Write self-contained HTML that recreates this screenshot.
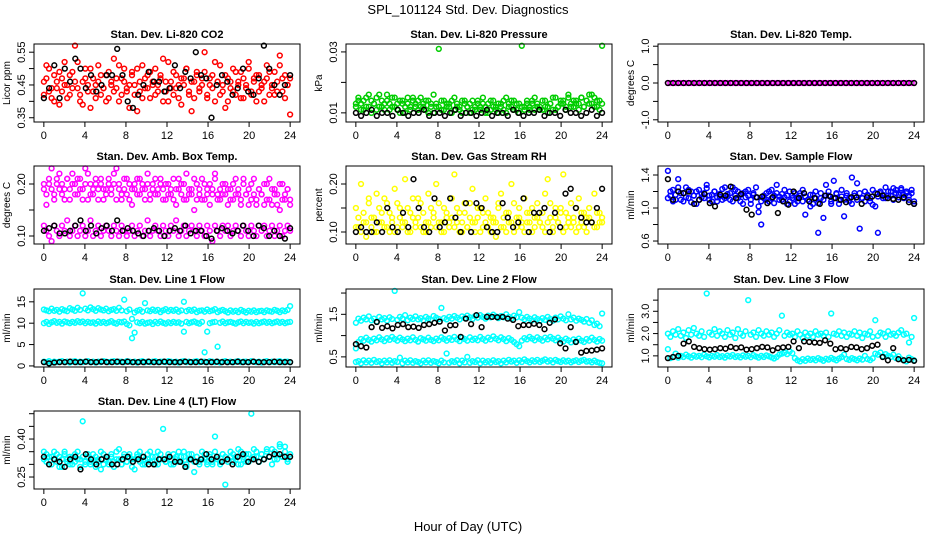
<!DOCTYPE html>
<html><head><meta charset="utf-8"><style>
body{margin:0;background:#fff;}
svg{display:block;font-family:"Liberation Sans",Arial,sans-serif;}
</style></head><body>
<svg id="chart" width="936" height="540" viewBox="0 0 936 540">
<text x="468" y="14" text-anchor="middle" font-size="13">SPL_101124  Std. Dev. Diagnostics</text>
<text x="468" y="531" text-anchor="middle" font-size="13">Hour of Day (UTC)</text>
</svg>
<script>
const xTicks=[0,4,8,12,16,20,24];
// ---- Panel 1: CO2
const co2RedA=[0.46,0.51,0.43,0.41,0.48,0.44,0.39,0.47,0.52,0.45,0.42,0.49,0.57,0.44,0.40,0.46,0.50,0.43,0.38,0.47,0.45,0.51,0.42,0.44,0.48,0.41,0.46,0.53,0.44,0.40,0.47,0.50,0.43,0.45,0.49,0.42,0.37,0.46,0.51,0.44,0.48,0.41,0.45,0.50,0.43,0.47,0.40,0.46,0.52,0.44,0.42,0.48,0.45,0.39,0.47,0.50,0.43,0.46,0.41,0.49,0.44,0.47,0.55,0.42,0.45,0.48,0.40,0.46,0.51,0.43,0.38,0.47,0.44,0.50,0.42,0.46,0.49,0.41,0.45,0.52,0.43,0.47,0.40,0.48,0.44,0.46,0.51,0.42,0.45,0.49,0.43,0.54,0.47,0.41,0.45,0.36];
const co2RedB=[0.42,0.47,0.50,0.44,0.40,0.46,0.49,0.43,0.45,0.41,0.48,0.44,0.46,0.52,0.42,0.39,0.47,0.45,0.50,0.43,0.41,0.46,0.48,0.44,0.40,0.49,0.45,0.43,0.47,0.51,0.42,0.46,0.44,0.38,0.48,0.45,0.50,0.43,0.41,0.47,0.44,0.49,0.46,0.42,0.45,0.48,0.53,0.43,0.40,0.46,0.49,0.44,0.41,0.47,0.45,0.50,0.42,0.37,0.46,0.48,0.43,0.45,0.49,0.41,0.47,0.44,0.52,0.46,0.42,0.45,0.48,0.40,0.46,0.43,0.49,0.45,0.41,0.47,0.44,0.50,0.42,0.46,0.48,0.43,0.45,0.40,0.47,0.49,0.44,0.42,0.46,0.51,0.43,0.48,0.45,0.47];
const co2Black=[0.41,0.44,0.51,0.41,0.50,0.46,0.53,0.50,0.44,0.48,0.43,0.45,0.48,0.48,0.56,0.48,0.40,0.38,0.42,0.45,0.49,0.46,0.46,0.43,0.44,0.51,0.44,0.49,0.47,0.55,0.48,0.47,0.35,0.45,0.48,0.46,0.42,0.44,0.50,0.43,0.42,0.47,0.57,0.50,0.45,0.42,0.45,0.48];
// ---- Panel 2: pressure
const presGreenA=[0.013,0.015,0.011,0.014,0.012,0.016,0.010,0.013,0.015,0.012,0.014,0.011,0.016,0.013,0.012,0.015,0.011,0.014,0.013,0.010,0.015,0.012,0.014,0.013,0.011,0.015,0.012,0.014,0.010,0.013,0.016,0.012,0.031,0.011,0.014,0.012,0.013,0.010,0.015,0.012,0.011,0.014,0.013,0.012,0.010,0.014,0.011,0.013,0.012,0.015,0.010,0.013,0.011,0.014,0.012,0.010,0.013,0.011,0.015,0.012,0.014,0.011,0.013,0.010,0.032,0.012,0.014,0.011,0.013,0.015,0.012,0.011,0.014,0.012,0.010,0.013,0.015,0.011,0.012,0.014,0.013,0.011,0.016,0.012,0.014,0.013,0.011,0.015,0.012,0.014,0.013,0.016,0.012,0.014,0.011,0.032];
const presGreenB=[0.012,0.014,0.013,0.011,0.015,0.012,0.014,0.013,0.011,0.016,0.012,0.013,0.014,0.011,0.015,0.012,0.013,0.010,0.014,0.012,0.013,0.011,0.015,0.012,0.014,0.012,0.013,0.011,0.014,0.012,0.010,0.013,0.012,0.014,0.011,0.013,0.012,0.014,0.011,0.013,0.012,0.010,0.014,0.012,0.013,0.011,0.012,0.014,0.011,0.013,0.012,0.010,0.014,0.012,0.011,0.013,0.012,0.014,0.010,0.013,0.012,0.014,0.011,0.013,0.012,0.011,0.013,0.012,0.014,0.011,0.013,0.012,0.011,0.014,0.012,0.013,0.011,0.015,0.012,0.013,0.014,0.012,0.015,0.013,0.012,0.014,0.013,0.015,0.012,0.014,0.016,0.013,0.015,0.012,0.014,0.013];
const presBlack=[0.010,0.009,0.010,0.011,0.009,0.010,0.010,0.009,0.011,0.010,0.009,0.010,0.010,0.011,0.009,0.010,0.010,0.009,0.010,0.011,0.009,0.010,0.010,0.009,0.010,0.011,0.009,0.010,0.010,0.009,0.011,0.010,0.009,0.010,0.010,0.011,0.009,0.010,0.010,0.009,0.011,0.010,0.010,0.009,0.010,0.011,0.009,0.010];
// ---- Panel 3: temp
const tempMag=[0,0,0,0,0,0,0,0,0,0,0,0,0,0,0,0,0,0,0,0,0,0,0,0,0,0,0,0,0,0,0,0,0,0,0,0,0,0,0,0,0,0,0,0,0,0,0,0,0,0,0,0,0,0,0,0,0,0,0,0,0,0,0,0,0,0,0,0,0,0,0,0,0,0,0,0,0,0,0,0,0,0,0,0,0,0,0,0,0,0,0,0,0,0,0,0];
const tempBlack=[0,0,0,0,0,0,0,0,0,0,0,0,0,0,0,0,0,0,0,0,0,0,0,0,0,0,0,0,0,0,0,0,0,0,0,0,0,0,0,0,0,0,0,0,0,0,0,0];
// ---- Panel 4: amb box temp
const ambHighA=[0.19,0.16,0.20,0.23,0.18,0.21,0.19,0.20,0.17,0.21,0.19,0.22,0.20,0.18,0.21,0.19,0.23,0.17,0.20,0.18,0.21,0.19,0.20,0.17,0.19,0.21,0.18,0.20,0.23,0.19,0.17,0.21,0.18,0.20,0.16,0.19,0.21,0.18,0.20,0.19,0.22,0.17,0.20,0.18,0.19,0.21,0.17,0.20,0.18,0.19,0.21,0.16,0.19,0.20,0.17,0.22,0.18,0.19,0.15,0.20,0.18,0.21,0.17,0.19,0.20,0.18,0.22,0.17,0.19,0.18,0.20,0.16,0.19,0.17,0.21,0.18,0.16,0.20,0.18,0.19,0.17,0.21,0.16,0.19,0.18,0.20,0.17,0.21,0.16,0.19,0.18,0.15,0.20,0.17,0.19,0.17];
const ambHighB=[0.20,0.18,0.21,0.19,0.17,0.20,0.22,0.18,0.19,0.21,0.17,0.20,0.18,0.21,0.19,0.17,0.20,0.22,0.18,0.19,0.20,0.17,0.21,0.19,0.18,0.20,0.19,0.22,0.17,0.20,0.18,0.19,0.21,0.17,0.19,0.20,0.18,0.21,0.19,0.17,0.20,0.18,0.19,0.21,0.18,0.20,0.19,0.17,0.20,0.18,0.17,0.19,0.21,0.18,0.20,0.17,0.19,0.18,0.21,0.17,0.19,0.17,0.20,0.18,0.16,0.19,0.21,0.18,0.17,0.20,0.18,0.19,0.17,0.20,0.18,0.19,0.17,0.21,0.18,0.16,0.20,0.18,0.17,0.19,0.18,0.16,0.20,0.17,0.19,0.18,0.16,0.20,0.17,0.18,0.19,0.16];
const ambLow=[0.12,0.11,0.10,0.09,0.12,0.11,0.10,0.12,0.11,0.13,0.10,0.11,0.12,0.10,0.11,0.12,0.10,0.11,0.13,0.10,0.11,0.12,0.10,0.11,0.12,0.11,0.10,0.12,0.11,0.10,0.12,0.11,0.10,0.11,0.12,0.10,0.11,0.12,0.10,0.11,0.13,0.10,0.11,0.12,0.11,0.10,0.12,0.11,0.10,0.12,0.11,0.13,0.10,0.11,0.12,0.10,0.11,0.12,0.11,0.10,0.12,0.11,0.10,0.12,0.11,0.09,0.12,0.11,0.10,0.12,0.11,0.12,0.10,0.11,0.12,0.11,0.10,0.12,0.11,0.10,0.12,0.11,0.10,0.12,0.11,0.12,0.10,0.11,0.12,0.10,0.11,0.12,0.10,0.11,0.12,0.11];
const ambBlack=[0.11,0.115,0.12,0.105,0.105,0.11,0.12,0.13,0.11,0.12,0.105,0.115,0.12,0.11,0.13,0.11,0.115,0.11,0.105,0.10,0.11,0.115,0.11,0.10,0.11,0.115,0.11,0.12,0.105,0.11,0.11,0.10,0.095,0.11,0.115,0.11,0.105,0.11,0.12,0.11,0.10,0.12,0.115,0.10,0.11,0.10,0.095,0.115];
// ---- Panel 5: RH
const rhYellowA=[0.15,0.11,0.20,0.12,0.09,0.17,0.13,0.10,0.18,0.12,0.14,0.11,0.16,0.10,0.13,0.19,0.11,0.15,0.12,0.21,0.10,0.14,0.17,0.11,0.13,0.16,0.10,0.12,0.18,0.11,0.14,0.20,0.12,0.10,0.15,0.13,0.11,0.17,0.22,0.12,0.14,0.10,0.16,0.11,0.13,0.19,0.12,0.15,0.10,0.14,0.17,0.11,0.13,0.12,0.09,0.16,0.18,0.11,0.14,0.12,0.20,0.10,0.13,0.15,0.11,0.17,0.12,0.14,0.10,0.13,0.16,0.12,0.11,0.18,0.21,0.13,0.10,0.15,0.12,0.14,0.22,0.11,0.13,0.16,0.12,0.10,0.17,0.14,0.11,0.13,0.15,0.12,0.18,0.11,0.14,0.12];
const rhYellowB=[0.11,0.13,0.10,0.14,0.12,0.16,0.11,0.13,0.10,0.15,0.12,0.17,0.11,0.14,0.12,0.10,0.16,0.13,0.11,0.12,0.15,0.10,0.13,0.12,0.17,0.11,0.14,0.10,0.12,0.15,0.13,0.11,0.16,0.12,0.10,0.14,0.12,0.13,0.11,0.15,0.10,0.12,0.14,0.11,0.16,0.12,0.10,0.13,0.15,0.11,0.12,0.14,0.10,0.13,0.12,0.15,0.11,0.13,0.10,0.14,0.12,0.16,0.11,0.13,0.12,0.10,0.14,0.12,0.15,0.11,0.13,0.12,0.14,0.10,0.12,0.16,0.11,0.13,0.12,0.15,0.10,0.14,0.12,0.11,0.13,0.15,0.11,0.12,0.14,0.10,0.13,0.12,0.11,0.14,0.12,0.13];
const rhBlack=[0.10,0.11,0.10,0.10,0.12,0.10,0.15,0.11,0.10,0.14,0.11,0.21,0.15,0.11,0.10,0.17,0.11,0.12,0.17,0.13,0.10,0.16,0.10,0.16,0.15,0.11,0.10,0.10,0.16,0.13,0.11,0.12,0.17,0.10,0.14,0.14,0.15,0.10,0.14,0.11,0.18,0.19,0.15,0.13,0.12,0.12,0.15,0.19];
// ---- Panel 6: sample flow
const sfBlueA=[1.45,1.15,1.22,1.10,1.35,1.18,1.08,1.25,1.12,1.20,1.15,1.05,1.22,1.13,1.18,1.28,1.10,1.16,1.20,1.08,1.14,1.23,1.12,1.17,1.10,1.25,1.15,1.20,1.08,1.18,1.13,1.22,1.05,1.16,1.25,0.95,0.80,1.12,1.18,1.08,1.22,1.15,1.28,1.10,1.17,1.13,1.05,1.20,1.12,1.18,1.08,1.15,1.22,0.92,1.10,1.16,1.05,1.20,0.70,1.12,0.88,1.28,1.15,1.05,1.33,1.18,1.10,1.22,0.90,1.15,1.08,1.37,1.18,1.30,0.75,1.12,1.20,1.15,1.08,1.22,1.02,0.70,1.18,1.12,1.25,1.15,1.20,1.10,1.22,1.16,1.24,1.12,1.18,1.10,1.22,1.05];
const sfBlueB=[1.12,1.20,1.08,1.16,1.25,1.10,1.18,1.13,1.22,1.07,1.15,1.20,1.10,1.17,1.12,1.24,1.15,1.08,1.20,1.13,1.17,1.10,1.25,1.14,1.18,1.08,1.22,1.12,1.16,1.05,1.20,1.15,1.10,1.18,1.13,1.02,1.08,1.15,1.10,1.20,1.12,1.06,1.18,1.14,1.10,1.22,1.15,1.08,1.15,1.05,1.12,1.18,1.08,1.14,1.10,1.02,1.16,1.12,1.06,1.18,1.10,1.15,1.20,1.08,1.12,1.17,1.05,1.14,1.10,1.18,1.12,1.05,1.15,1.10,1.18,1.12,1.08,1.16,1.12,1.04,1.18,1.14,1.20,1.16,1.12,1.20,1.15,1.24,1.18,1.13,1.22,1.16,1.20,1.15,1.18,1.08];
const sfBlack=[1.35,1.10,1.20,1.18,1.20,1.05,1.10,1.17,1.06,1.02,1.16,1.15,1.26,1.12,1.17,0.98,0.92,1.13,1.14,1.06,1.13,0.94,1.08,1.04,1.20,1.12,1.18,1.08,1.12,1.05,1.15,1.14,1.12,1.10,1.07,1.13,1.13,1.05,1.13,1.14,1.17,1.15,1.12,1.11,1.10,1.13,1.07,1.05];
// ---- Panel 7: line 1
const l1Top=[13.2,13.0,12.8,13.4,12.9,13.1,12.7,13.3,13.0,12.8,13.5,13.2,12.9,13.6,13.1,17.0,13.4,13.0,13.7,13.3,12.9,13.5,13.2,13.0,13.4,12.8,13.1,13.3,12.9,13.6,13.0,15.5,12.8,13.2,11.0,12.5,12.9,13.1,12.7,14.7,13.0,12.8,13.2,12.9,13.1,12.6,13.0,13.3,12.8,13.1,12.9,13.2,12.7,13.0,15.0,12.8,13.1,12.9,13.2,12.6,12.9,13.0,12.7,13.2,12.8,13.0,13.3,12.6,12.9,13.1,12.8,12.5,13.0,12.7,12.9,12.6,13.1,12.8,12.5,12.9,12.7,13.0,12.6,12.8,12.9,12.6,13.0,12.8,12.7,13.1,12.9,12.6,13.0,12.8,13.1,14.0];
const l1Mid=[10.0,10.3,9.8,10.2,10.5,10.1,10.3,9.9,10.4,10.2,10.0,10.3,10.1,10.5,10.2,10.4,10.0,10.3,10.1,10.2,9.9,10.4,10.1,10.3,10.0,10.2,10.5,10.1,9.9,10.3,10.2,10.4,9.8,9.5,6.5,7.8,10.2,10.0,10.3,9.9,10.1,10.2,9.8,10.3,10.0,10.4,10.1,9.9,10.2,10.0,10.3,10.1,10.2,9.9,8.0,10.3,10.0,10.2,10.4,10.1,9.9,10.3,3.2,8.0,10.0,10.2,10.3,4.5,10.1,10.4,10.0,10.2,10.3,10.1,9.9,10.2,10.4,10.0,10.3,10.1,10.2,9.9,10.3,10.0,10.2,10.4,10.1,10.3,10.0,10.2,10.4,10.1,10.3,10.0,10.2,10.3];
const l1Low=[1.0,0.9,1.1,0.8,1.0,0.9,1.0,1.1,0.9,1.0,0.8,1.0,1.1,0.9,1.0,0.9,1.0,1.1,0.9,1.0,0.8,1.0,0.9,1.1,1.0,0.9,1.0,1.1,0.9,1.0,1.0,0.9,1.1,1.0,0.9,1.0,0.8,1.0,1.1,0.9,1.0,0.9,1.0,1.1,0.9,1.0,1.0,0.9,1.1,1.0,0.9,1.0,0.8,1.0,1.1,0.9,1.0,0.9,1.0,1.1,0.9,1.0,1.0,0.9,1.1,1.0,0.9,1.0,0.8,1.0,1.1,0.9,1.0,0.9,1.0,1.1,0.9,1.0,1.0,0.9,1.1,1.0,0.9,1.0,0.8,1.0,1.1,0.9,1.0,0.9,1.0,1.1,0.9,1.0,1.0,0.9];
const l1Black=[0.9,0.6,0.8,0.9,0.9,1.0,0.9,0.9,1.0,0.9,0.9,1.0,0.9,0.9,1.0,0.9,1.0,0.9,0.9,0.9,1.0,0.9,0.9,1.0,0.9,0.9,0.9,1.0,0.9,0.9,1.0,0.9,0.9,1.0,0.9,0.9,0.9,1.0,0.9,0.9,1.0,0.9,0.9,0.9,1.0,0.9,0.9,0.9];
// ---- Panel 8: line 2
const l2Top=[1.30,1.40,1.35,1.42,1.38,1.45,1.36,1.40,1.33,1.44,1.38,1.41,1.35,1.43,1.39,2.05,1.37,1.44,1.40,1.48,1.36,1.42,1.39,1.45,1.38,1.41,1.36,1.44,1.40,1.37,1.46,1.42,1.39,1.65,1.41,1.38,1.44,1.40,1.46,1.42,1.38,1.45,1.41,1.47,1.43,1.39,1.46,1.42,1.48,1.44,1.40,1.47,1.43,1.49,1.45,1.41,1.46,1.43,1.50,1.44,1.40,1.47,1.43,1.55,1.42,1.38,1.44,1.40,1.36,1.43,1.39,1.35,1.41,1.37,1.44,1.39,1.35,1.42,1.38,1.45,1.40,1.36,1.50,1.38,1.42,1.35,1.40,1.37,1.33,1.39,1.30,1.36,1.25,1.28,1.22,1.52];
const l2Mid=[0.70,0.85,0.92,0.88,0.95,0.90,0.86,0.93,0.89,0.96,0.91,0.87,0.94,0.90,0.97,0.92,0.88,0.95,0.91,0.87,0.93,0.89,0.96,0.90,0.86,0.94,0.91,0.88,0.95,0.90,0.87,0.93,0.89,0.96,0.92,0.88,0.94,0.90,0.97,0.91,0.87,0.95,0.92,0.88,0.96,0.90,0.93,0.89,0.97,0.92,0.88,0.95,0.91,0.98,0.93,0.89,0.96,0.92,0.87,0.94,0.90,0.85,0.80,0.75,0.88,0.94,0.91,0.97,0.93,0.89,0.96,0.92,0.88,0.95,0.91,0.97,0.93,0.89,0.95,0.90,0.86,0.93,0.89,0.84,0.91,0.87,0.93,0.88,0.85,0.92,0.88,0.95,0.90,0.86,0.92,0.88];
const l2Low=[0.38,0.40,0.35,0.42,0.37,0.41,0.36,0.43,0.38,0.40,0.35,0.41,0.37,0.42,0.36,0.40,0.38,0.48,0.35,0.41,0.37,0.42,0.36,0.40,0.38,0.35,0.41,0.37,0.42,0.36,0.40,0.38,0.35,0.41,0.37,0.58,0.36,0.40,0.38,0.42,0.35,0.41,0.37,0.50,0.36,0.40,0.38,0.42,0.35,0.41,0.37,0.40,0.36,0.42,0.38,0.40,0.35,0.41,0.37,0.43,0.39,0.41,0.36,0.42,0.38,0.44,0.40,0.37,0.42,0.39,0.43,0.38,0.41,0.44,0.39,0.42,0.37,0.43,0.40,0.38,0.42,0.39,0.41,0.37,0.40,0.42,0.38,0.41,0.43,0.39,0.40,0.37,0.41,0.38,0.36,0.35];
const l2Black=[0.80,0.75,0.72,1.20,1.32,1.18,1.22,1.17,1.25,1.27,1.20,1.21,1.18,1.25,1.27,1.30,1.33,1.12,1.24,1.25,0.97,1.40,1.27,1.48,1.20,1.44,1.44,1.43,1.44,1.40,1.37,1.22,1.25,1.25,1.28,1.25,1.15,1.30,1.38,0.82,0.70,1.20,0.85,0.60,0.64,0.65,0.67,0.70];
// ---- Panel 9: line 3
const l3Top=[2.00,1.85,2.10,1.95,2.20,1.90,2.05,1.80,2.15,1.95,2.25,2.00,1.90,2.10,1.85,3.80,2.05,1.95,2.20,1.90,2.10,2.00,1.85,2.15,1.95,2.05,1.80,2.20,2.00,1.90,2.10,3.50,1.95,2.05,1.85,2.15,2.00,1.90,2.10,1.95,2.05,1.85,2.00,2.15,2.80,1.90,2.05,1.95,2.00,1.85,2.10,1.95,1.80,2.05,1.90,2.00,1.85,2.10,1.95,2.00,1.90,2.05,1.85,2.90,2.00,1.95,2.10,1.90,2.05,1.85,2.00,1.95,2.10,1.90,2.05,1.80,2.00,1.95,2.10,1.85,2.60,1.90,2.05,2.00,1.85,2.10,1.95,2.00,1.90,2.05,2.15,1.95,2.00,1.60,1.85,2.70];
const l3Low=[1.30,0.90,0.95,1.10,0.92,1.00,0.95,1.05,0.98,0.92,1.02,0.96,1.00,0.94,1.05,0.98,0.93,1.00,0.96,1.03,0.95,0.99,0.92,1.01,0.97,1.04,0.95,0.99,0.93,1.02,0.96,1.00,0.94,1.03,0.97,0.92,1.00,0.95,1.02,0.98,0.93,0.88,0.95,1.05,1.10,1.15,1.08,1.20,1.12,0.90,0.80,0.75,0.85,0.78,0.88,0.82,0.86,0.80,0.90,0.84,0.78,0.87,0.83,0.91,0.85,0.80,0.88,0.95,1.05,0.86,0.82,0.90,0.85,0.80,0.88,0.83,1.00,0.86,0.81,0.89,1.10,1.05,1.15,0.98,1.08,1.00,0.95,1.05,0.90,0.98,0.85,0.80,0.75,0.92,0.85,0.80];
const l3Black=[0.90,0.95,1.00,1.55,1.65,1.40,1.35,1.30,1.28,1.30,1.35,1.32,1.40,1.35,1.38,1.28,1.30,1.35,1.40,1.38,1.25,1.35,1.38,1.40,1.65,1.35,1.65,1.62,1.60,1.58,1.70,1.55,1.30,1.35,1.30,1.40,1.38,1.30,1.35,1.45,1.50,0.95,0.80,1.35,0.85,0.80,0.82,0.78];
// ---- Panel 10: line 4
const l4CyanA=[0.32,0.34,0.30,0.33,0.35,0.31,0.33,0.29,0.34,0.32,0.30,0.33,0.31,0.35,0.32,0.47,0.30,0.33,0.31,0.34,0.29,0.32,0.35,0.30,0.33,0.31,0.34,0.29,0.32,0.36,0.30,0.33,0.31,0.34,0.32,0.28,0.33,0.35,0.30,0.32,0.34,0.31,0.33,0.30,0.35,0.32,0.44,0.31,0.34,0.32,0.30,0.33,0.35,0.31,0.33,0.29,0.34,0.32,0.27,0.33,0.31,0.35,0.32,0.30,0.34,0.31,0.41,0.33,0.30,0.34,0.22,0.32,0.35,0.31,0.33,0.36,0.30,0.32,0.34,0.31,0.50,0.33,0.35,0.31,0.34,0.32,0.36,0.33,0.30,0.35,0.32,0.38,0.33,0.37,0.31,0.34];
const l4CyanB=[0.35,0.31,0.33,0.30,0.32,0.34,0.29,0.32,0.35,0.31,0.33,0.30,0.34,0.32,0.29,0.33,0.31,0.34,0.30,0.32,0.33,0.31,0.28,0.34,0.32,0.30,0.33,0.31,0.35,0.32,0.30,0.34,0.31,0.33,0.29,0.32,0.34,0.31,0.33,0.30,0.32,0.35,0.31,0.33,0.30,0.34,0.32,0.31,0.33,0.30,0.34,0.32,0.31,0.33,0.35,0.30,0.32,0.34,0.31,0.33,0.30,0.32,0.34,0.31,0.33,0.30,0.35,0.32,0.31,0.34,0.33,0.31,0.33,0.34,0.32,0.30,0.35,0.33,0.31,0.34,0.32,0.36,0.33,0.31,0.34,0.32,0.35,0.33,0.36,0.32,0.34,0.37,0.33,0.35,0.32,0.34];
const l4Black=[0.33,0.30,0.32,0.31,0.29,0.32,0.33,0.28,0.34,0.32,0.30,0.32,0.33,0.30,0.30,0.32,0.33,0.31,0.32,0.33,0.30,0.30,0.32,0.32,0.33,0.31,0.31,0.29,0.32,0.31,0.32,0.34,0.32,0.33,0.31,0.32,0.30,0.33,0.34,0.31,0.32,0.31,0.32,0.33,0.34,0.34,0.33,0.33];
// tick arrays
const co2Ticks=[0.35,0.40,0.45,0.50,0.55], co2Labels=['0.35','','0.45','','0.55'];
const presTicks=[0.01,0.02,0.03], presLabels=['0.01','','0.03'];
const tempTicks=[-1,-0.5,0,0.5,1], tempLabels=['-1.0','','0.0','','1.0'];
const ambTicks=[0.10,0.15,0.20], ambLabels=['0.10','','0.20'];
const rhTicks=[0.10,0.15,0.20], rhLabels=['0.10','','0.20'];
const sfTicks=[0.6,0.8,1.0,1.2,1.4], sfLabels=['0.6','','1.0','','1.4'];
const l1Ticks=[0,5,10,15], l1Labels=['0','5','10','15'];
const l2Ticks=[0.5,1.0,1.5,2.0], l2Labels=['0.5','','1.5',''];
const l3Ticks=[1.0,1.5,2.0,2.5,3.0,3.5], l3Labels=['1.0','','2.0','','3.0',''];
const l4Ticks=[0.25,0.30,0.35,0.40,0.45,0.50], l4Labels=['0.25','','','0.40','',''];

const NS='http://www.w3.org/2000/svg';
const svg=document.getElementById('chart');
const colX=[34,346,658], rowY=[44,166,289,411], W=266, H=78;
function mk(tag,attrs,parent){const e=document.createElementNS(NS,tag);for(const k in attrs)e.setAttribute(k,attrs[k]);(parent||svg).appendChild(e);return e;}
function panel(o){
  const x0=colX[o.col], y0=rowY[o.row];
  const g=mk('g',{});
  
  
  const xs=v=>x0+W*(v+0.96)/25.92;
  const ys=v=>y0+H*(o.top-v)/(o.top-o.bot);
  const t=mk('text',{x:x0+W/2,y:y0-6,'text-anchor':'middle','font-size':11,'font-weight':'bold'},g);
  t.textContent=o.title;
  
  
  const yl=mk('text',{x:0,y:0,'text-anchor':'middle','font-size':10,transform:`translate(${x0-24},${y0+H/2}) rotate(-90)`},g);
  yl.textContent=o.ylab;
  
  
  // series
  o.series.forEach(s=>{
    const n=s.v.length;
    s.v.forEach((v,i)=>{
      const c=mk('circle',{cx:xs(i*24/(n-1)).toFixed(1),cy:ys(v).toFixed(1),r:2.4,fill:'none',stroke:s.c,'stroke-width':1.5},g);
      
      
    });
  });
  const b=mk('rect',{x:x0,y:y0,width:W,height:H,fill:'none',stroke:'#000','stroke-width':1},g);
  
  
  // x axis
  xTicks.forEach(v=>{
    mk('line',{x1:xs(v),x2:xs(v),y1:y0+H,y2:y0+H+5,stroke:'#000'},g);
    const l=mk('text',{x:xs(v),y:y0+H+17,'text-anchor':'middle','font-size':11},g);
    l.textContent=v;
    
    
  });
  // y axis
  o.ticks.forEach((v,i)=>{
    mk('line',{x1:x0-5,x2:x0,y1:ys(v),y2:ys(v),stroke:'#000'},g);
    if(o.labels[i]){
      const l=mk('text',{x:0,y:0,'text-anchor':'middle','font-size':11,transform:`translate(${x0-9},${ys(v)}) rotate(-90)`},g);
      l.textContent=o.labels[i];
      
      
    }
  });
}
const RED='#ff0000',GRN='#00cd00',MAG='#ff00ff',YEL='#ffff00',BLU='#0000ff',CYN='#00ffff',BLK='#000';
panel({name:'co2-panel',col:0,row:0,title:'Stan. Dev. Li-820 CO2',ylab:'Licor ppm',top:0.575,bot:0.337,ticks:co2Ticks,labels:co2Labels,series:[{v:co2RedA,c:RED,n:'co2-red'},{v:co2RedB,c:RED,n:'co2-red'},{v:co2Black,c:BLK,n:'co2-black'}]});
panel({name:'pressure-panel',col:1,row:0,title:'Stan. Dev. Li-820 Pressure',ylab:'kPa',top:0.0326,bot:0.0070,ticks:presTicks,labels:presLabels,series:[{v:presGreenA,c:GRN,n:'pressure-green'},{v:presGreenB,c:GRN,n:'pressure-green'},{v:presBlack,c:BLK,n:'pressure-black'}]});
panel({name:'temp-panel',col:2,row:0,title:'Stan. Dev. Li-820 Temp.',ylab:'degrees C',top:1.06,bot:-1.06,ticks:tempTicks,labels:tempLabels,series:[{v:tempMag,c:MAG,n:'temp-magenta'},{v:tempBlack,c:BLK,n:'temp-black'}]});
panel({name:'amb-box-panel',col:0,row:1,title:'Stan. Dev. Amb. Box Temp.',ylab:'degrees C',top:0.2346,bot:0.0846,ticks:ambTicks,labels:ambLabels,series:[{v:ambHighA,c:MAG,n:'amb-magenta'},{v:ambHighB,c:MAG,n:'amb-magenta'},{v:ambLow,c:MAG,n:'amb-magenta-low'},{v:ambBlack,c:BLK,n:'amb-black'}]});
panel({name:'rh-panel',col:1,row:1,title:'Stan. Dev. Gas Stream RH',ylab:'percent',top:0.2375,bot:0.075,ticks:rhTicks,labels:rhLabels,series:[{v:rhYellowA,c:YEL,n:'rh-yellow'},{v:rhYellowB,c:YEL,n:'rh-yellow'},{v:rhBlack,c:BLK,n:'rh-black'}]});
panel({name:'sample-flow-panel',col:2,row:1,title:'Stan. Dev. Sample Flow',ylab:'ml/min',top:1.509,bot:0.564,ticks:sfTicks,labels:sfLabels,series:[{v:sfBlueA,c:BLU,n:'sample-flow-blue'},{v:sfBlueB,c:BLU,n:'sample-flow-blue'},{v:sfBlack,c:BLK,n:'sample-flow-black'}]});
panel({name:'line1-panel',col:0,row:2,title:'Stan. Dev. Line 1 Flow',ylab:'ml/min',top:18.0,bot:-0.25,ticks:l1Ticks,labels:l1Labels,series:[{v:l1Top,c:CYN,n:'line1-cyan'},{v:l1Mid,c:CYN,n:'line1-cyan'},{v:l1Low,c:CYN,n:'line1-cyan'},{v:l1Black,c:BLK,n:'line1-black'}]});
panel({name:'line2-panel',col:1,row:2,title:'Stan. Dev. Line 2 Flow',ylab:'ml/min',top:2.095,bot:0.262,ticks:l2Ticks,labels:l2Labels,series:[{v:l2Top,c:CYN,n:'line2-cyan'},{v:l2Mid,c:CYN,n:'line2-cyan'},{v:l2Low,c:CYN,n:'line2-cyan'},{v:l2Black,c:BLK,n:'line2-black'}]});
panel({name:'line3-panel',col:2,row:2,title:'Stan. Dev. Line 3 Flow',ylab:'ml/min',top:4.0,bot:0.5,ticks:l3Ticks,labels:l3Labels,series:[{v:l3Top,c:CYN,n:'line3-cyan'},{v:l3Low,c:CYN,n:'line3-cyan'},{v:l3Black,c:BLK,n:'line3-black'}]});
panel({name:'line4-panel',col:0,row:3,title:'Stan. Dev. Line 4 (LT) Flow',ylab:'ml/min',top:0.5107,bot:0.2027,ticks:l4Ticks,labels:l4Labels,series:[{v:l4CyanA,c:CYN,n:'line4-cyan'},{v:l4CyanB,c:CYN,n:'line4-cyan'},{v:l4Black,c:BLK,n:'line4-black'}]});
</script>
</body></html>
